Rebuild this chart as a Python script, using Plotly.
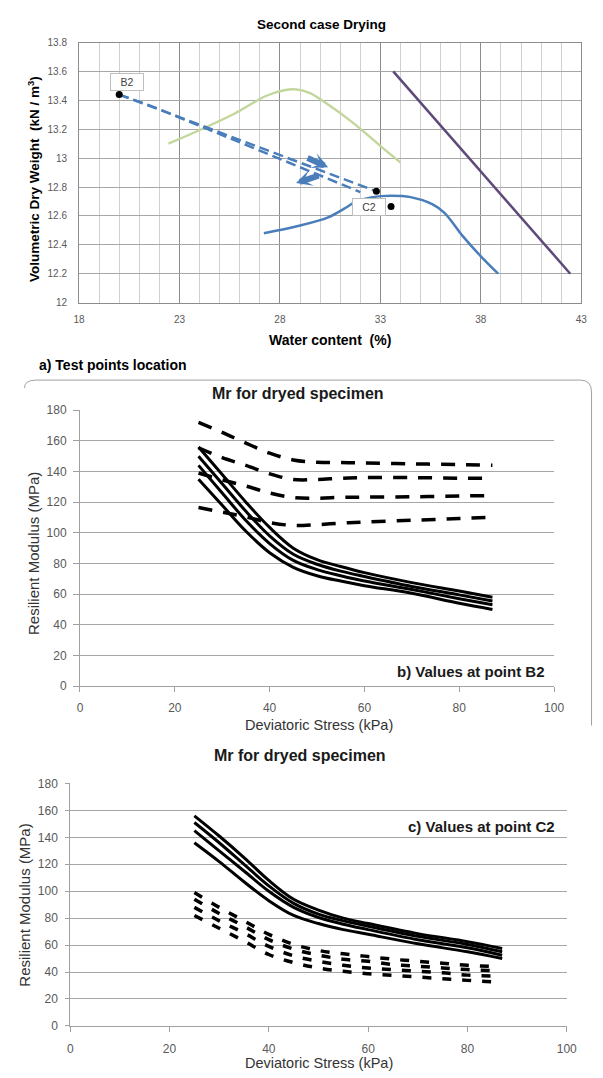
import plotly.graph_objects as go

W, H = 603, 1078

# ---------------- Chart 1: Second case Drying ----------------
green_x = [22.45, 24.1, 25.7, 27.3, 28.2, 28.8, 29.5, 30.5, 31.4, 32.2, 33.2, 34.0]
green_y = [13.10, 13.20, 13.305, 13.43, 13.47, 13.476, 13.45, 13.36, 13.27, 13.18, 13.06, 12.97]

blue_x = [27.2, 28.9, 30.4, 31.2, 31.8, 32.6, 33.5, 34.5, 35.6, 36.2, 37.1, 38.0, 38.86]
blue_y = [12.48, 12.53, 12.59, 12.65, 12.70, 12.73, 12.74, 12.73, 12.68, 12.62, 12.46, 12.32, 12.20]

purple_x = [33.64, 42.45]
purple_y = [13.6, 12.2]

path1_x = [20.0, 32.8]
path1_y = [13.44, 12.77]
path2_x = [20.0, 21.8, 32.0]
path2_y = [13.44, 13.35, 12.765]

points_x = [20.0, 32.8, 33.53]
points_y = [13.44, 12.77, 12.665]

label_names = ["B2", "C2"]
label_x = [20.41, 32.44]
label_y = [13.53, 12.663]

arrow_tail_x = [29.3, 30.0]
arrow_tail_y = [13.005, 12.882]
arrow_head_x = [30.4, 28.8]
arrow_head_y = [12.937, 12.827]

y1_ticks = [12.0, 12.2, 12.4, 12.6, 12.8, 13.0, 13.2, 13.4, 13.6, 13.8]
y1_labels = ["12", "12.2", "12.4", "12.6", "12.8", "13", "13.2", "13.4", "13.6", "13.8"]
x1_ticks = [18, 23, 28, 33, 38, 43]

# ---------------- Chart 2: Mr at point B2 ----------------
x2 = [25, 30, 35, 40, 45, 50, 55, 60, 70, 80, 87]
b2_dash1 = [172, 165.5, 158.5, 152, 147.5, 146, 145.8, 145.6, 145, 144.5, 144]
b2_dash2 = [155.5, 149, 144, 138.5, 134.8, 134.8, 135.6, 136, 136, 135.6, 135.5]
b2_dash3 = [139, 134.5, 130.5, 126, 123, 122.6, 123.1, 123.3, 123.5, 124, 124.3]
b2_dash4 = [116.5, 113.5, 110.3, 106.7, 104.8, 105.3, 106.3, 107, 108.2, 109.3, 110.1]
b2_solid1 = [156, 138, 120, 103.5, 90, 82.5, 78, 74, 67.5, 62, 58]
b2_solid2 = [150, 132, 114, 98, 86, 79.5, 75, 71.5, 65, 59.5, 55.5]
b2_solid3 = [144, 126, 108, 93, 82, 76, 72, 68.5, 63, 57, 53]
b2_solid4 = [135, 118, 101, 87, 77.5, 72, 68.5, 65.5, 60.5, 54, 50]

# ---------------- Chart 3: Mr at point C2 ----------------
x3s = [25, 30, 35, 40, 45, 50, 55, 60, 70, 80, 87]
c2_solid1 = [156, 141, 125, 108, 94, 86, 80, 76, 68.5, 62.5, 57.5]
c2_solid2 = [151, 136, 120, 104, 91, 83, 78, 74, 66.5, 60.5, 55]
c2_solid3 = [145, 130, 115, 100, 88, 80.5, 75.5, 71.5, 64, 58, 52.5]
c2_solid4 = [136, 122, 107, 93, 82, 76, 71.5, 68, 61, 55, 50]
x3d = [25, 30, 35, 40, 45, 50, 55, 60, 65, 70, 75, 80, 86]
c2_dash1 = [99, 88, 78, 68, 60.5, 56, 53.5, 51.5, 49.5, 48, 46.5, 45, 44]
c2_dash2 = [94, 83.5, 74, 64, 57, 52.5, 49.5, 48, 45.5, 44.3, 43, 41.8, 41]
c2_dash3 = [88, 78, 69, 59, 52, 48, 45, 43, 41.8, 40.6, 39.4, 37.7, 37]
c2_dash4 = [82, 72.5, 63, 53, 47, 43, 40.5, 38.7, 37.5, 36.3, 35, 33.8, 32.5]

mr_range_x = [0, 100]
mr_range_y = [0, 180]


def px(x):
    return x / W


def py(y):
    return 1 - y / H


fig = go.Figure()

# Chart 1 traces
fig.add_trace(go.Scatter(x=green_x, y=green_y, mode="lines", line=dict(color="#c3d69b", width=2.4, shape="spline"),
                         xaxis="x", yaxis="y", showlegend=False))
fig.add_trace(go.Scatter(x=purple_x, y=purple_y, mode="lines", line=dict(color="#5f497a", width=2.5),
                         xaxis="x", yaxis="y", showlegend=False))
fig.add_trace(go.Scatter(x=blue_x, y=blue_y, mode="lines", line=dict(color="#4a7ebb", width=2.5, shape="spline"),
                         xaxis="x", yaxis="y", showlegend=False))
fig.add_trace(go.Scatter(x=path1_x, y=path1_y, mode="lines", line=dict(color="#4a7ebb", width=2.5, dash="10px,5px"),
                         xaxis="x", yaxis="y", showlegend=False))
fig.add_trace(go.Scatter(x=path2_x, y=path2_y, mode="lines", line=dict(color="#4a7ebb", width=2.5, dash="10px,5px"),
                         xaxis="x", yaxis="y", showlegend=False))
fig.add_trace(go.Scatter(x=points_x, y=points_y, mode="markers", marker=dict(color="black", size=7),
                         xaxis="x", yaxis="y", showlegend=False))

# Chart 2 traces
for ys in [b2_dash1, b2_dash2, b2_dash3, b2_dash4]:
    fig.add_trace(go.Scatter(x=x2, y=ys, mode="lines", line=dict(color="black", width=3.5, dash="14px,11px", shape="spline"),
                             xaxis="x2", yaxis="y2", showlegend=False))
for ys in [b2_solid1, b2_solid2, b2_solid3, b2_solid4]:
    fig.add_trace(go.Scatter(x=x2, y=ys, mode="lines", line=dict(color="black", width=3, shape="spline"),
                             xaxis="x2", yaxis="y2", showlegend=False))

# Chart 3 traces
for ys in [c2_dash1, c2_dash2, c2_dash3, c2_dash4]:
    fig.add_trace(go.Scatter(x=x3d, y=ys, mode="lines", line=dict(color="black", width=3.5, dash="9px,11px", shape="spline"),
                             xaxis="x3", yaxis="y3", showlegend=False))
for ys in [c2_solid1, c2_solid2, c2_solid3, c2_solid4]:
    fig.add_trace(go.Scatter(x=x3s, y=ys, mode="lines", line=dict(color="black", width=3, shape="spline"),
                             xaxis="x3", yaxis="y3", showlegend=False))

tick_font1 = dict(family="Liberation Sans, Arial", size=10, color="#595959")
tick_font2 = dict(family="Liberation Sans, Arial", size=12, color="#595959")

fig.update_layout(
    width=W, height=H, margin=dict(l=0, r=0, t=0, b=0),
    paper_bgcolor="white", plot_bgcolor="white",
    font=dict(family="Liberation Sans, Arial"),
    xaxis=dict(domain=[px(75), px(591)], anchor="y", range=[18, 43], tickvals=x1_ticks,
               showgrid=True, gridcolor="#8c8c8c", gridwidth=1,
               minor=dict(dtick=1, tick0=18, showgrid=True, gridcolor="#d0d0d0", gridwidth=1),
               showline=True, mirror=True, linecolor="#8c8c8c", zeroline=False, ticks="",
               tickfont=tick_font1, ticklabelstandoff=7),
    yaxis=dict(domain=[py(299.5), py(36)], anchor="x", range=[12, 13.8], tickvals=y1_ticks, ticktext=y1_labels,
               showgrid=True, gridcolor="#a6a6a6", showline=True, mirror=True, linecolor="#8c8c8c",
               zeroline=False, ticks="", tickfont=tick_font1, ticklabelstandoff=9),
    xaxis2=dict(domain=[px(76), px(563)], anchor="y2", range=mr_range_x, dtick=20, showgrid=False,
                showline=True, linecolor="#a0a0a0", ticks="outside", ticklen=5, tickcolor="#a0a0a0",
                zeroline=False, tickfont=tick_font2, ticklabelstandoff=6),
    yaxis2=dict(domain=[py(688), py(408.5)], anchor="x2", range=mr_range_y, dtick=20, showgrid=True,
                gridcolor="#a6a6a6", showline=True, linecolor="#a0a0a0", ticks="outside", ticklen=6,
                tickcolor="#a0a0a0", zeroline=False, tickfont=tick_font2, ticklabelstandoff=4),
    xaxis3=dict(domain=[px(66), px(576)], anchor="y3", range=mr_range_x, dtick=20, showgrid=False,
                showline=True, linecolor="#a0a0a0", ticks="outside", ticklen=5, tickcolor="#a0a0a0",
                zeroline=False, tickfont=tick_font2, ticklabelstandoff=7),
    yaxis3=dict(domain=[py(1032.3), py(786.7)], anchor="x3", range=mr_range_y, dtick=20, showgrid=True,
                gridcolor="#a6a6a6", showline=True, linecolor="#a0a0a0", ticks="outside", ticklen=4,
                tickcolor="#a0a0a0", zeroline=False, tickfont=tick_font2, ticklabelstandoff=5),
)

ann = []


def text(x, y, s, size, bold=False, color="#000000", xanchor="center", angle=0):
    ann.append(dict(x=px(x), y=py(y), xref="paper", yref="paper", text=("<b>%s</b>" % s) if bold else s,
                    showarrow=False, xanchor=xanchor, yanchor="middle", textangle=angle,
                    font=dict(family="Liberation Sans, Arial", size=size, color=color)))


text(324, 18, "Second case Drying", 13.5, bold=True)
text(28, 174, "Volumetric Dry Weight  (kN / m<sup>3</sup>)", 13.5, bold=True, angle=-90)
text(333, 337, "Water content  (%)", 14, bold=True)
text(32, 363, "a) Test points location", 14, bold=True, xanchor="left")
text(300, 392, "Mr for dryed specimen", 16, bold=True, color="#1a1a1a")
text(29, 554, "Resilient Modulus (MPa)", 15, color="#333333", angle=-90)
text(322, 727, "Deviatoric Stress (kPa)", 14.5, color="#333333")
text(556, 673, "b) Values at point B2", 15, bold=True, color="#1a1a1a", xanchor="right")
text(302, 758, "Mr for dryed specimen", 16, bold=True, color="#1a1a1a")
text(19, 910, "Resilient Modulus (MPa)", 15, color="#333333", angle=-90)
text(322, 1070, "Deviatoric Stress (kPa)", 14.5, color="#333333")
text(566, 830, "c) Values at point C2", 15, bold=True, color="#1a1a1a", xanchor="right")

for name, lx, ly in zip(label_names, label_x, label_y):
    ann.append(dict(x=lx, y=ly, xref="x", yref="y", text=name, showarrow=False,
                    bgcolor="white", bordercolor="#bfbfbf", borderwidth=1, width=30, height=14,
                    font=dict(family="Liberation Sans, Arial", size=10.5, color="#404040")))

for tx, ty, hx, hy in zip(arrow_tail_x, arrow_tail_y, arrow_head_x, arrow_head_y):
    ann.append(dict(x=hx, y=hy, ax=tx, ay=ty, xref="x", yref="y", axref="x", ayref="y", text="",
                    showarrow=True, arrowhead=3, arrowsize=0.45, arrowwidth=6, arrowcolor="#4a7ebb"))

fig.update_layout(annotations=ann)

# rounded frame around chart b
frame = ("M %f,%f Q %f,%f %f,%f L %f,%f Q %f,%f %f,%f L %f,%f" % (
    px(19), py(386), px(19), py(378), px(31), py(378), px(590), py(378),
    px(601.5), py(378), px(601.5), py(390), px(601.5), py(728)))
fig.add_shape(type="path", path=frame, xref="paper", yref="paper", line=dict(color="#a0a0a0", width=1))

fig.write_html("out.html", config={"displayModeBar": False},
               post_script="document.body.style.margin='0px';")
